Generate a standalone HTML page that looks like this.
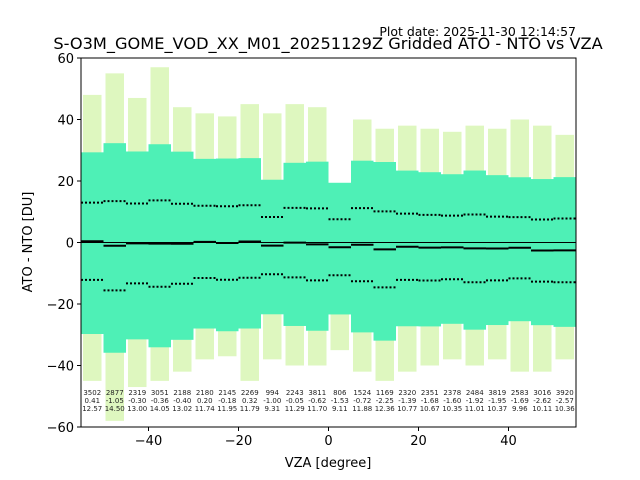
<!DOCTYPE html>
<html><head><meta charset="utf-8"><style>
html,body{margin:0;padding:0;background:#fff}
svg{display:block;font-family:"DejaVu Sans","Liberation Sans",sans-serif}
</style></head><body>
<svg id="chart" width="640" height="480" viewBox="0 0 640 480">
<text x="576" y="36" font-size="12.5" text-anchor="end">Plot date: 2025-11-30 12:14:57</text>
<text x="328" y="49" font-size="16.2" text-anchor="middle">S-O3M_GOME_VOD_XX_M01_20251129Z Gridded ATO - NTO vs VZA</text>
<g id="marks"></g>
<g id="axes"></g>
<text x="328" y="467" font-size="13" text-anchor="middle">VZA [degree]</text>
<text transform="translate(32,242) rotate(-90)" font-size="13" text-anchor="middle">ATO - NTO [DU]</text>
</svg>
<script>
const binCenters=[-52.5,-47.5,-42.5,-37.5,-32.5,-27.5,-22.5,-17.5,-12.5,-7.5,-2.5,2.5,7.5,12.5,17.5,22.5,27.5,32.5,37.5,42.5,47.5,52.5];
const counts=[3502,2877,2319,3051,2188,2180,2145,2269,994,2243,3811,806,1524,1169,2320,2351,2378,2484,3819,2583,3016,3920];
const means=[0.41,-1.05,-0.30,-0.36,-0.40,0.20,-0.18,0.32,-1.00,-0.05,-0.62,-1.53,-0.72,-2.25,-1.39,-1.68,-1.60,-1.92,-1.95,-1.69,-2.62,-2.57];
const stds=[12.57,14.50,13.00,14.05,13.02,11.74,11.95,11.79,9.31,11.29,11.70,9.11,11.88,12.36,10.77,10.67,10.35,11.01,10.37,9.96,10.11,10.36];
const maxVals=[48,55,47,57,44,42,41,45,42,45,44,17,40,37,38,37,36,38,37,40,38,35];
const minVals=[-45,-58,-47,-45,-42,-38,-37,-45,-38,-40,-40,-35,-42,-45,-42,-40,-38,-40,-38,-42,-42,-38];
const xTicks=[-40,-20,0,20,40];
const yTicks=[-60,-40,-20,0,20,40,60];
const X0=81,X1=576,Y0=58,Y1=427;
const xs=v=>X0+(v+55)/110*(X1-X0);
const ys=v=>Y1-(v+60)/120*(Y1-Y0);
const NS="http://www.w3.org/2000/svg";
function mk(tag,attrs,parent){const e=document.createElementNS(NS,tag);for(const k in attrs)e.setAttribute(k,attrs[k]);parent.appendChild(e);return e;}
const marks=document.getElementById('marks'),axes=document.getElementById('axes');
const hw=(xs(5)-xs(0))/2;
binCenters.forEach((c,i)=>{
  const x=xs(c)-hw, w=hw*2;
  const f=mk('rect',{x:x+2,y:ys(maxVals[i]),width:w-4,height:ys(minVals[i])-ys(maxVals[i]),fill:'#b5ee70',opacity:0.45},marks);
  
  
  const hi=means[i]+2.3*stds[i], lo=means[i]-2.4*stds[i];
  const r=mk('rect',{x:x,y:ys(hi),width:w,height:ys(lo)-ys(hi),fill:'#4ef0b6'},marks);
  
  
  const m=mk('line',{x1:x,x2:x+w,y1:ys(means[i]),y2:ys(means[i]),stroke:'#000','stroke-width':2},marks);
  
  
  [1,-1].forEach(s=>{
    const d=mk('line',{x1:x,x2:x+w,y1:ys(means[i]+s*stds[i]),y2:ys(means[i]+s*stds[i]),stroke:'#000','stroke-width':2,'stroke-dasharray':'2,2'},marks);
    
    
  });
  [counts[i],means[i].toFixed(2),stds[i].toFixed(2)].forEach((t,k)=>{
    const tx=mk('text',{x:xs(c),y:395+k*8,'font-size':7,'text-anchor':'middle',fill:'#222'},marks);
    tx.textContent=t;
    
    
  });
});
const zl=mk('line',{x1:X0,x2:X1,y1:ys(0),y2:ys(0),stroke:'#000','stroke-width':1},marks);


const fr=mk('rect',{x:X0,y:Y0,width:X1-X0,height:Y1-Y0,fill:'none',stroke:'#000','stroke-width':1},axes);


xTicks.forEach(v=>{
  const t=mk('line',{x1:xs(v),x2:xs(v),y1:Y1,y2:Y1+4,stroke:'#000'},axes);
  
  
  const l=mk('text',{x:xs(v),y:Y1+18,'font-size':13,'text-anchor':'middle'},axes);
  l.textContent=v<0?'\u2212'+(-v):v;
  
  
});
yTicks.forEach(v=>{
  const t=mk('line',{x1:X0-4,x2:X0,y1:ys(v),y2:ys(v),stroke:'#000'},axes);
  
  
  const l=mk('text',{x:X0-7,y:ys(v)+5,'font-size':13,'text-anchor':'end'},axes);
  l.textContent=v<0?'\u2212'+(-v):v;
  
  
});
</script>
</body></html>
